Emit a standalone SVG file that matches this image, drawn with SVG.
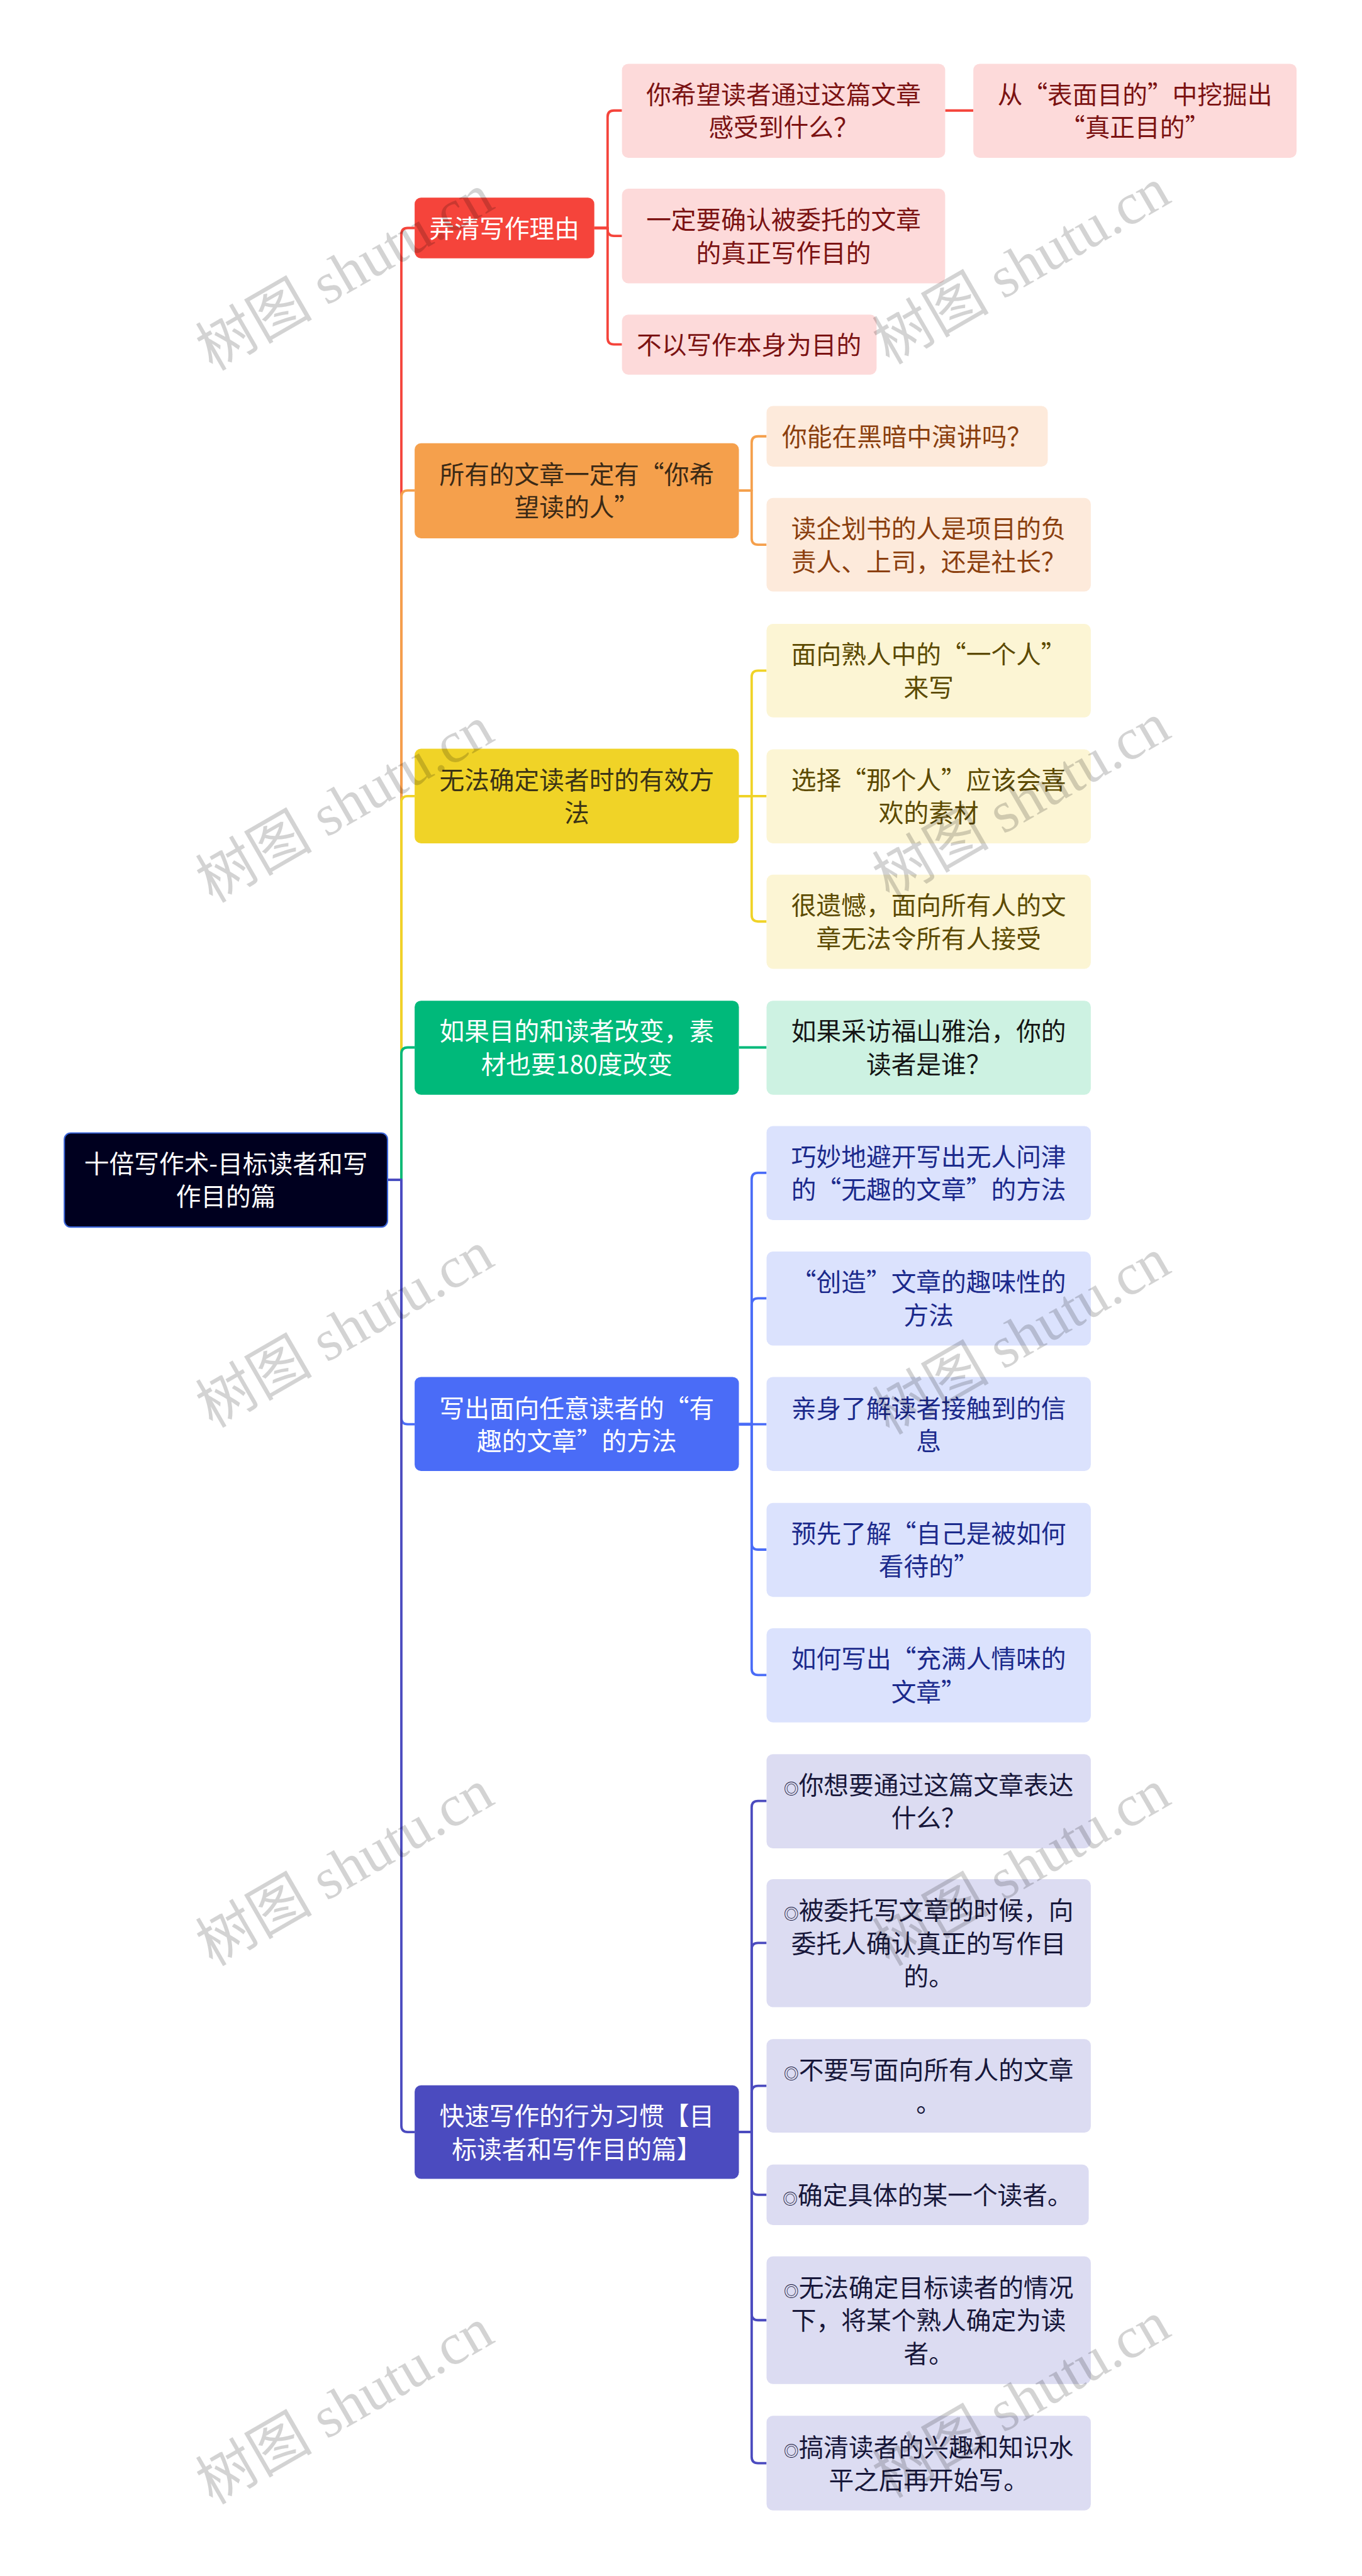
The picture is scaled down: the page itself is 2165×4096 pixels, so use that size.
<svg xmlns="http://www.w3.org/2000/svg" width="2165" height="4096" viewBox="0 0 2165 4096">
<style>
.t{font-family:"Noto Sans CJK SC","Noto Sans",sans-serif;font-size:47px;text-anchor:middle}
.sm{font-size:28px}
.c{fill:none;stroke-width:4.5;stroke-linejoin:round}
.wm{font-family:"Liberation Serif","Noto Sans CJK SC",serif;font-size:110px;text-anchor:middle;fill:#000;opacity:0.17}
.r1{fill:#fddada}.rt{fill:#7b1212}
.o1{fill:#fdeadb}.ot{fill:#8b3f0e}
.y1{fill:#fcf5d4}.yt{fill:#5c4a00}
.g1{fill:#cdf2e2}.gt{fill:#151515}
.b1{fill:#dbe2fd}.bt{fill:#1b2a8c}
.p1{fill:#dcdcf2}.pt{fill:#17173a}
</style>
<rect width="2165" height="4096" fill="#fff"/>
<g transform="scale(0.845)">
<g id="connectors">
<path class="c" stroke="#f5443b" d="M729,2220 H755 V441 Q755,429 767,429 H780"/>
<path class="c" stroke="#f5a04c" d="M729,2220 H755 V935 Q755,923 767,923 H780"/>
<path class="c" stroke="#f0d327" d="M729,2220 H755 V1510 Q755,1498 767,1498 H780"/>
<path class="c" stroke="#00b97a" d="M729,2220 H755 V1983 Q755,1971 767,1971 H780"/>
<path class="c" stroke="#4a6cf7" d="M729,2220 H755 V2668 Q755,2680 767,2680 H780"/>
<path class="c" stroke="#4b4bbf" d="M729,2220 H755 V4000 Q755,4012 767,4012 H780"/>
<path class="c" stroke="#f5443b" d="M1118,429 H1143 V220 Q1143,208 1155,208 H1170"/>
<path class="c" stroke="#f5443b" d="M1118,429 H1143 V432 Q1143,444 1155,444 H1170"/>
<path class="c" stroke="#f5443b" d="M1118,429 H1143 V636 Q1143,648 1155,648 H1170"/>
<path class="c" stroke="#f5443b" d="M1778,208 H1831"/>
<path class="c" stroke="#f5a04c" d="M1390,923 H1414 V833 Q1414,821 1426,821 H1442"/>
<path class="c" stroke="#f5a04c" d="M1390,923 H1414 V1013 Q1414,1025 1426,1025 H1442"/>
<path class="c" stroke="#f0d327" d="M1390,1498 H1414 V1274 Q1414,1262 1426,1262 H1442"/>
<path class="c" stroke="#f0d327" d="M1390,1498 H1442"/>
<path class="c" stroke="#f0d327" d="M1390,1498 H1414 V1722 Q1414,1734 1426,1734 H1442"/>
<path class="c" stroke="#00b97a" d="M1390,1971 H1442"/>
<path class="c" stroke="#4a6cf7" d="M1390,2680 H1414 V2219 Q1414,2207 1426,2207 H1442"/>
<path class="c" stroke="#4a6cf7" d="M1390,2680 H1414 V2455 Q1414,2443 1426,2443 H1442"/>
<path class="c" stroke="#4a6cf7" d="M1390,2680 H1442"/>
<path class="c" stroke="#4a6cf7" d="M1390,2680 H1414 V2904 Q1414,2916 1426,2916 H1442"/>
<path class="c" stroke="#4a6cf7" d="M1390,2680 H1414 V3140 Q1414,3152 1426,3152 H1442"/>
<path class="c" stroke="#4b4bbf" d="M1390,4012 H1414 V3401 Q1414,3389 1426,3389 H1442"/>
<path class="c" stroke="#4b4bbf" d="M1390,4012 H1414 V3668 Q1414,3656 1426,3656 H1442"/>
<path class="c" stroke="#4b4bbf" d="M1390,4012 H1414 V3937 Q1414,3925 1426,3925 H1442"/>
<path class="c" stroke="#4b4bbf" d="M1390,4012 H1414 V4118 Q1414,4130 1426,4130 H1442"/>
<path class="c" stroke="#4b4bbf" d="M1390,4012 H1414 V4354 Q1414,4366 1426,4366 H1442"/>
<path class="c" stroke="#4b4bbf" d="M1390,4012 H1414 V4623 Q1414,4635 1426,4635 H1442"/>
</g>

<g id="root">
<rect x="121" y="2132" width="608" height="177" rx="12" fill="#00001f" stroke="#3a64d8" stroke-width="2.5"/>
<text class="t" fill="#fff" x="425" y="2207">十倍写作术-目标读者和写</text>
<text class="t" fill="#fff" x="425" y="2269">作目的篇</text>
</g>

<g id="n-red">
<rect x="780" y="372" width="338" height="114" rx="12" fill="#f5443b"/>
<text class="t" fill="#fff" x="949" y="447">弄清写作理由</text>
</g>
<g id="n-red-1">
<rect x="1170" y="120" width="608" height="177" rx="12" class="r1"/>
<text class="t rt" x="1474" y="195">你希望读者通过这篇文章</text>
<text class="t rt" x="1474" y="257">感受到什么？</text>
</g>
<g id="n-red-1-1">
<rect x="1831" y="120" width="608" height="177" rx="12" class="r1"/>
<text class="t rt" x="2135" y="195">从“表面目的”中挖掘出</text>
<text class="t rt" x="2135" y="257">“真正目的”</text>
</g>
<g id="n-red-2">
<rect x="1170" y="355" width="608" height="178" rx="12" class="r1"/>
<text class="t rt" x="1474" y="431">一定要确认被委托的文章</text>
<text class="t rt" x="1474" y="493">的真正写作目的</text>
</g>
<g id="n-red-3">
<rect x="1170" y="592" width="479" height="113" rx="12" class="r1"/>
<text class="t rt" x="1409" y="666">不以写作本身为目的</text>
</g>

<g id="n-orange">
<rect x="780" y="834" width="610" height="179" rx="12" fill="#f5a04c"/>
<text class="t" fill="#3b2a16" x="1085" y="910">所有的文章一定有“你希</text>
<text class="t" fill="#3b2a16" x="1085" y="972">望读的人”</text>
</g>
<g id="n-orange-1">
<rect x="1442" y="764" width="529" height="114" rx="12" class="o1"/>
<text class="t ot" x="1706" y="839">你能在黑暗中演讲吗？</text>
</g>
<g id="n-orange-2">
<rect x="1442" y="937" width="610" height="176" rx="12" class="o1"/>
<text class="t ot" x="1747" y="1012">读企划书的人是项目的负</text>
<text class="t ot" x="1747" y="1074">责人、上司，还是社长？</text>
</g>

<g id="n-yellow">
<rect x="780" y="1409" width="610" height="178" rx="12" fill="#f0d327"/>
<text class="t" fill="#3b3316" x="1085" y="1485">无法确定读者时的有效方</text>
<text class="t" fill="#3b3316" x="1085" y="1547">法</text>
</g>
<g id="n-yellow-1">
<rect x="1442" y="1174" width="610" height="176" rx="12" class="y1"/>
<text class="t yt" x="1747" y="1249">面向熟人中的“一个人”</text>
<text class="t yt" x="1747" y="1311">来写</text>
</g>
<g id="n-yellow-2">
<rect x="1442" y="1410" width="610" height="177" rx="12" class="y1"/>
<text class="t yt" x="1747" y="1485">选择“那个人”应该会喜</text>
<text class="t yt" x="1747" y="1547">欢的素材</text>
</g>
<g id="n-yellow-3">
<rect x="1442" y="1646" width="610" height="177" rx="12" class="y1"/>
<text class="t yt" x="1747" y="1721">很遗憾，面向所有人的文</text>
<text class="t yt" x="1747" y="1783">章无法令所有人接受</text>
</g>

<g id="n-green">
<rect x="780" y="1883" width="610" height="177" rx="12" fill="#00b97a"/>
<text class="t" fill="#fff" x="1085" y="1958">如果目的和读者改变，素</text>
<text class="t" fill="#fff" x="1085" y="2020">材也要180度改变</text>
</g>
<g id="n-green-1">
<rect x="1442" y="1883" width="610" height="177" rx="12" class="g1"/>
<text class="t gt" x="1747" y="1958">如果采访福山雅治，你的</text>
<text class="t gt" x="1747" y="2020">读者是谁？</text>
</g>

<g id="n-blue">
<rect x="780" y="2591" width="610" height="177" rx="12" fill="#4a6cf7"/>
<text class="t" fill="#fff" x="1085" y="2667">写出面向任意读者的“有</text>
<text class="t" fill="#fff" x="1085" y="2729">趣的文章”的方法</text>
</g>
<g id="n-blue-1">
<rect x="1442" y="2119" width="610" height="177" rx="12" class="b1"/>
<text class="t bt" x="1747" y="2194">巧妙地避开写出无人问津</text>
<text class="t bt" x="1747" y="2256">的“无趣的文章”的方法</text>
</g>
<g id="n-blue-2">
<rect x="1442" y="2355" width="610" height="177" rx="12" class="b1"/>
<text class="t bt" x="1747" y="2430">“创造”文章的趣味性的</text>
<text class="t bt" x="1747" y="2492">方法</text>
</g>
<g id="n-blue-3">
<rect x="1442" y="2591" width="610" height="177" rx="12" class="b1"/>
<text class="t bt" x="1747" y="2667">亲身了解读者接触到的信</text>
<text class="t bt" x="1747" y="2729">息</text>
</g>
<g id="n-blue-4">
<rect x="1442" y="2828" width="610" height="177" rx="12" class="b1"/>
<text class="t bt" x="1747" y="2903">预先了解“自己是被如何</text>
<text class="t bt" x="1747" y="2965">看待的”</text>
</g>
<g id="n-blue-5">
<rect x="1442" y="3064" width="610" height="177" rx="12" class="b1"/>
<text class="t bt" x="1747" y="3139">如何写出“充满人情味的</text>
<text class="t bt" x="1747" y="3201">文章”</text>
</g>

<g id="n-purple">
<rect x="780" y="3924" width="610" height="176" rx="12" fill="#4b4bbf"/>
<text class="t" fill="#fff" x="1085" y="3999">快速写作的行为习惯【目</text>
<text class="t" fill="#fff" x="1085" y="4061">标读者和写作目的篇】</text>
</g>
<g id="n-purple-1">
<rect x="1442" y="3301" width="610" height="177" rx="12" class="p1"/>
<text class="t pt" x="1747" y="3376"><tspan class="sm">◎</tspan>你想要通过这篇文章表达</text>
<text class="t pt" x="1747" y="3438">什么？</text>
</g>
<g id="n-purple-2">
<rect x="1442" y="3536" width="610" height="241" rx="12" class="p1"/>
<text class="t pt" x="1747" y="3612"><tspan class="sm">◎</tspan>被委托写文章的时候，向</text>
<text class="t pt" x="1747" y="3674">委托人确认真正的写作目</text>
<text class="t pt" x="1747" y="3736">的。</text>
</g>
<g id="n-purple-3">
<rect x="1442" y="3837" width="610" height="176" rx="12" class="p1"/>
<text class="t pt" x="1747" y="3912"><tspan class="sm">◎</tspan>不要写面向所有人的文章</text>
<text class="t pt" x="1747" y="3974">。</text>
</g>
<g id="n-purple-4">
<rect x="1442" y="4073" width="606" height="114" rx="12" class="p1"/>
<text class="t pt" x="1745" y="4148"><tspan class="sm">◎</tspan>确定具体的某一个读者。</text>
</g>
<g id="n-purple-5">
<rect x="1442" y="4246" width="610" height="240" rx="12" class="p1"/>
<text class="t pt" x="1747" y="4322"><tspan class="sm">◎</tspan>无法确定目标读者的情况</text>
<text class="t pt" x="1747" y="4384">下，将某个熟人确定为读</text>
<text class="t pt" x="1747" y="4446">者。</text>
</g>
<g id="n-purple-6">
<rect x="1442" y="4546" width="610" height="178" rx="12" class="p1"/>
<text class="t pt" x="1747" y="4622"><tspan class="sm">◎</tspan>搞清读者的兴趣和知识水</text>
<text class="t pt" x="1747" y="4684">平之后再开始写。</text>
</g>

<g id="watermarks">
<text class="wm" transform="translate(648,512) rotate(-30)" y="38">树图 shutu.cn</text>
<text class="wm" transform="translate(1921,500) rotate(-30)" y="38">树图 shutu.cn</text>
<text class="wm" transform="translate(648,1513) rotate(-30)" y="38">树图 shutu.cn</text>
<text class="wm" transform="translate(1921,1507) rotate(-30)" y="38">树图 shutu.cn</text>
<text class="wm" transform="translate(648,2501) rotate(-30)" y="38">树图 shutu.cn</text>
<text class="wm" transform="translate(1921,2514) rotate(-30)" y="38">树图 shutu.cn</text>
<text class="wm" transform="translate(648,3514) rotate(-30)" y="38">树图 shutu.cn</text>
<text class="wm" transform="translate(1921,3514) rotate(-30)" y="38">树图 shutu.cn</text>
<text class="wm" transform="translate(648,4527) rotate(-30)" y="38">树图 shutu.cn</text>
<text class="wm" transform="translate(1921,4515) rotate(-30)" y="38">树图 shutu.cn</text>
</g>
</g>
</svg>
